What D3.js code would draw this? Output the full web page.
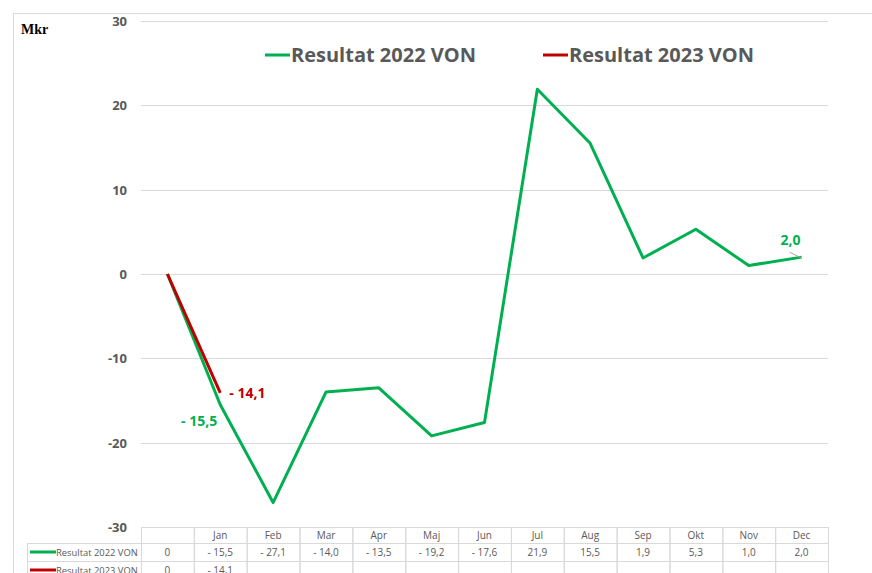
<!DOCTYPE html>
<html>
<head>
<meta charset="utf-8">
<script src="https://cdn.jsdelivr.net/npm/d3@7"></script>
<style>
body{margin:0;background:#fff;}
svg{display:block;font-family:"Open Sans","Liberation Sans",sans-serif;}
</style>
</head>
<body>
<svg id="chart" width="872" height="573"></svg>
<script>
// data
var months = ["", "Jan", "Feb", "Mar", "Apr", "Maj", "Jun", "Jul", "Aug", "Sep", "Okt", "Nov", "Dec"];
var res2022 = [0, -15.5, -27.1, -14.0, -13.5, -19.2, -17.6, 21.9, 15.5, 1.9, 5.3, 1.0, 2.0];
var res2023 = [0, -14.1];
var yTicks = [30, 20, 10, 0, -10, -20, -30];
var seriesNames = ["Resultat 2022 VON", "Resultat 2023 VON"];
var seriesColors = ["#00B050", "#C00000"];

var svg = d3.select("#chart");
var plotLeft = 141, plotRight = 828, plotTop = 21, plotBottom = 527;

var x = d3.scaleBand().domain(d3.range(months.length)).range([plotLeft, plotRight]);
var y = d3.scaleLinear().domain([-30, 30]).range([plotBottom, plotTop]);

function fmt(v){
	if(v == 0) return "0";
	var s = Math.abs(v).toFixed(1).replace(".", ",");
	return v < 0 ? "- " + s : s;
}
function cx(i){ return x(i) + x.bandwidth() / 2; }

// outer border
svg.append("path").attr("d", "M13.5,573 V13.5 H872")
	.attr("fill", "none").attr("stroke", "#d9d9d9").attr("stroke-width", 1);

// grid
svg.append("g").selectAll("line").data(yTicks).enter().append("line")
	.attr("x1", plotLeft).attr("x2", plotRight)
	.attr("y1", d => Math.round(y(d)) + 0.5).attr("y2", d => Math.round(y(d)) + 0.5)
	.attr("stroke", "#d9d9d9").attr("stroke-width", 1);

svg.append("g").selectAll("text").data(yTicks).enter().append("text")
	.attr("x", 127).attr("y", d => y(d) + 5)
	.attr("text-anchor", "end")
	.style("font-size", "13px").style("font-weight", "bold").attr("fill", "#595959")
	.text(d => d);

svg.append("text").attr("x", 21).attr("y", 34)
	.style("font-family", "'Liberation Serif','DejaVu Serif',serif")
	.style("font-size", "14px").style("font-weight", "bold").attr("fill", "#000")
	.text("Mkr");

// lines
var line = d3.line().x((d, i) => cx(i)).y(d => y(d));
var allSeries = [res2022, res2023];
allSeries.forEach(function(s, k){
	svg.append("path").datum(s).attr("d", line)
		.attr("fill", "none").attr("stroke", seriesColors[k]).attr("stroke-width", 3)
		.attr("stroke-linejoin", "round");
});

// data labels
svg.append("text").attr("x", cx(1) - 3).attr("y", y(res2022[1]) + 21)
	.attr("text-anchor", "end").style("font-size", "14px").style("font-weight", "bold")
	.attr("fill", seriesColors[0]).text(fmt(res2022[1]));
svg.append("text").attr("x", cx(1) + 9).attr("y", y(res2023[1]) + 5)
	.style("font-size", "14px").style("font-weight", "bold")
	.attr("fill", seriesColors[1]).text(fmt(res2023[1]));
svg.append("text").attr("x", cx(12) - 11).attr("y", y(res2022[12]) - 12)
	.attr("text-anchor", "middle").style("font-size", "14px").style("font-weight", "bold")
	.attr("fill", seriesColors[0]).text(fmt(res2022[12]));
svg.append("line").attr("x1", cx(12) - 12).attr("y1", y(res2022[12]) - 5)
	.attr("x2", cx(12)).attr("y2", y(res2022[12]) + 1)
	.attr("stroke", "#a6a6a6").attr("stroke-width", 1);

// legend
var legX = [265, 543];
seriesNames.forEach(function(n, k){
	var g = svg.append("g").attr("transform", "translate(" + legX[k] + ",55)");
	g.append("line").attr("x1", 0).attr("x2", 25).attr("y1", 0).attr("y2", 0)
		.attr("stroke", seriesColors[k]).attr("stroke-width", 3);
	g.append("text").attr("x", 26).attr("y", 7)
		.style("font-size", "20px").style("font-weight", "bold").attr("fill", "#595959")
		.text(n);
});

// data table
var rowH = [16, 18, 18];
var rowY = [plotBottom, plotBottom + rowH[0], plotBottom + rowH[0] + rowH[1]];
var tbl = svg.append("g");
var border = "#d9d9d9";
months.forEach(function(m, i){
	tbl.append("rect").attr("x", x(i) + 0.5).attr("y", rowY[0] + 0.5)
		.attr("width", x.bandwidth()).attr("height", rowH[0])
		.attr("fill", "none").attr("stroke", border);
	tbl.append("text").attr("x", cx(i)).attr("y", rowY[0] + 12)
		.attr("text-anchor", "middle").style("font-size", "10px").attr("fill", "#595959").text(m);
});
allSeries.forEach(function(s, k){
	var yy = rowY[k + 1];
	tbl.append("rect").attr("x", 27.5).attr("y", yy + 0.5)
		.attr("width", plotLeft - 27).attr("height", rowH[k + 1])
		.attr("fill", "none").attr("stroke", border);
	tbl.append("line").attr("x1", 30).attr("x2", 56).attr("y1", yy + 9).attr("y2", yy + 9)
		.attr("stroke", seriesColors[k]).attr("stroke-width", 3);
	tbl.append("text").attr("x", 56).attr("y", yy + 13)
		.style("font-size", "9.4px").attr("fill", "#595959").text(seriesNames[k]);
	months.forEach(function(m, i){
		tbl.append("rect").attr("x", x(i) + 0.5).attr("y", yy + 0.5)
			.attr("width", x.bandwidth()).attr("height", rowH[k + 1])
			.attr("fill", "none").attr("stroke", border);
		if(i < s.length){
			tbl.append("text").attr("x", cx(i)).attr("y", yy + 13)
				.attr("text-anchor", "middle").style("font-size", "10px").attr("fill", "#595959")
				.text(fmt(s[i]));
		}
	});
});
</script>
</body>
</html>
